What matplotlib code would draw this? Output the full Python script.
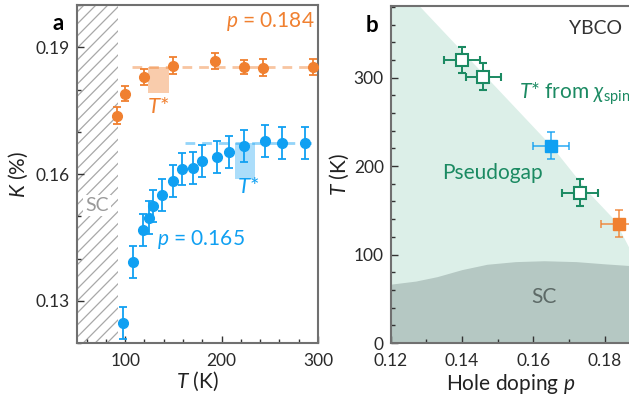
import matplotlib.pyplot as plt
import numpy as np
from matplotlib.patches import Rectangle
from matplotlib.ticker import FixedLocator, MultipleLocator

plt.rcParams['font.family'] = ['Lato', 'DejaVu Sans']
plt.rcParams['mathtext.fontset'] = 'custom'
plt.rcParams['mathtext.rm'] = 'Lato'
plt.rcParams['mathtext.it'] = 'Lato:italic'

ORANGE = '#f08030'
BLUE = '#10a0f2'
GREEN = '#1b8a62'
SPINE = '#707070'

# panel a: Knight shift vs temperature
T_184 = [92, 99.5, 119.5, 150, 193, 223.5, 243, 294.5]
K_184 = [0.1738, 0.1790, 0.1830, 0.1856, 0.1867, 0.1853, 0.1852, 0.1854]
err_184 = [0.0020, 0.0018, 0.0019, 0.0020, 0.0019, 0.0016, 0.0020, 0.0019]

T_165 = [98, 108, 118.5, 124.5, 129, 138.5, 149.5, 159, 170, 179.5, 195, 207.5, 223.5, 245, 262.5, 286]
K_165 = [0.1248, 0.1391, 0.1468, 0.1497, 0.1525, 0.1550, 0.1583, 0.1612, 0.1615, 0.1631,
         0.1640, 0.1653, 0.1667, 0.1678, 0.1674, 0.1674]
err_165 = [0.0038] * len(T_165)

# high-temperature plateaus and T* windows
plateau_184, plateau_184_start = 0.1854, 107
plateau_165, plateau_165_start = 0.1674, 162
tstar_184 = (124, 145.5, 0.1792)  # T from, T to, lower K
tstar_165 = (214, 234.5, 0.1589)
Tc = 93
K_ticks = [0.13, 0.16, 0.19]

# panel b: phase diagram
p_chi = [0.140, 0.146, 0.173]
T_chi = [320, 301, 170]
p_nmr = [0.165, 0.184]
T_nmr = [223, 135]
p_err, T_err = 0.005, 15

pg_p = [0.12, 0.1278, 0.165, 0.1753, 0.1828, 0.1873]
pg_T = [382, 382, 223, 171, 139, 104]
sc_p = [0.12, 0.127, 0.133, 0.14, 0.147, 0.155, 0.163, 0.172, 0.18, 0.1873]
sc_T = [66.5, 70, 75, 83, 89, 92, 93, 92, 89.5, 87.5]


def style_axes(ax):
    for s in ax.spines.values():
        s.set_color(SPINE)
        s.set_linewidth(1.5)
    ax.tick_params(which='both', direction='in', color='#333333', labelsize=12.5,
                   labelcolor='#2a2a2a', pad=5)
    ax.tick_params(axis='x', which='both', pad=7.5)
    ax.tick_params(which='major', length=5, width=1)
    ax.tick_params(which='minor', length=3, width=1)


fig = plt.figure(figsize=(6.29, 4.01), dpi=100)

# ---------------- panel a ----------------
ax = fig.add_axes([77 / 629, 58 / 401, 241 / 629, 338 / 401])
ax.set_xlim(50, 300)
ax.set_ylim(0.12, 0.2)
style_axes(ax)
ax.xaxis.set_major_locator(MultipleLocator(100))
ax.xaxis.set_minor_locator(MultipleLocator(20))
ax.yaxis.set_major_locator(FixedLocator(K_ticks))
ax.yaxis.set_minor_locator(MultipleLocator(0.01))
ax.yaxis.set_major_formatter(lambda v, pos: f'{v:.2f}')

# hatched superconducting region
sc_box = Rectangle((50, 0.12), Tc - 50, 0.08, facecolor='none', edgecolor='none')
ax.add_patch(sc_box)
k = 0.97 / 4210  # slope for 45 degree lines in data units
step = 12 / 4210
for y0 in np.arange(0.12 - 0.03, 0.2 + step, step):
    xs = np.array([50, Tc])
    ln, = ax.plot(xs, y0 + k * (xs - 50), color='#a8a8a8', lw=0.9, zorder=1)
    ln.set_clip_path(sc_box)
ax.text(71, 0.1525, 'SC', color='#9a9a9a', fontsize=14, ha='center', va='center',
        bbox=dict(facecolor='white', edgecolor='none', pad=1.5), zorder=2)

ax.plot([plateau_184_start, 300], [plateau_184] * 2, ls=(0, (3.5, 2.5)), lw=2,
        color=ORANGE, alpha=0.45, zorder=2)
ax.plot([plateau_165_start, 300], [plateau_165] * 2, ls=(0, (3.5, 2.5)), lw=2,
        color=BLUE, alpha=0.45, zorder=2)
ax.add_patch(Rectangle((tstar_184[0], tstar_184[2]), tstar_184[1] - tstar_184[0],
                       plateau_184 - tstar_184[2], color=ORANGE, alpha=0.4, lw=0, zorder=2))
ax.add_patch(Rectangle((tstar_165[0], tstar_165[2]), tstar_165[1] - tstar_165[0],
                       plateau_165 - tstar_165[2], color=BLUE, alpha=0.35, lw=0, zorder=2))

ax.errorbar(T_184, K_184, yerr=err_184, fmt='o', ms=7, color=ORANGE, ecolor=ORANGE,
            elinewidth=1.3, capsize=3, capthick=1.3, zorder=3)
ax.errorbar(T_165, K_165, yerr=err_165, fmt='o', ms=7, color=BLUE, ecolor=BLUE,
            elinewidth=1.3, capsize=3, capthick=1.3, zorder=3)

ax.text(0.985, 0.95, r'$p$ = 0.184', transform=ax.transAxes, color=ORANGE,
        fontsize=15, ha='right', va='center')
ax.text(0.33, 0.305, r'$p$ = 0.165', transform=ax.transAxes, color=BLUE,
        fontsize=15, ha='left', va='center')
ax.text(134.5, 0.1758, r'$T$*', color=ORANGE, fontsize=16, ha='center', va='center')
ax.text(228, 0.1570, r'$T$*', color=BLUE, fontsize=16, ha='center', va='center')

ax.set_xlabel(r'$T$ (K)', fontsize=15, color='#222222', labelpad=0)
ax.set_ylabel(r'$K$ (%)', fontsize=15, color='#222222', labelpad=4)
fig.text(58 / 629, 1 - 24 / 401, 'a', fontsize=16, fontweight='bold', ha='center', va='center')

# ---------------- panel b ----------------
bx = fig.add_axes([390.7 / 629, 58 / 401, 240 / 629, 337 / 401])
bx.set_xlim(0.12, 0.1873)
bx.set_ylim(0, 381)
style_axes(bx)
bx.spines['right'].set_visible(False)
bx.xaxis.set_major_locator(MultipleLocator(0.02))
bx.xaxis.set_minor_locator(MultipleLocator(0.01))
bx.yaxis.set_major_locator(MultipleLocator(100))
bx.yaxis.set_minor_locator(MultipleLocator(20))
bx.xaxis.set_major_formatter(lambda v, pos: f'{v:.2f}')

bx.fill_between(pg_p, 0, pg_T, color='#dcefe8', lw=0, zorder=0)
bx.fill_between(sc_p, 0, sc_T, color='#b5c8c3', lw=0, zorder=0)

bx.errorbar(p_chi, T_chi, xerr=p_err, yerr=T_err, fmt='s', ms=8, mfc='white',
            mec=GREEN, mew=1.5, ecolor=GREEN, elinewidth=1.4, capsize=3, capthick=1.4, zorder=3)
for p, T, c in zip(p_nmr, T_nmr, [BLUE, ORANGE]):
    bx.errorbar(p, T, xerr=p_err, yerr=T_err, fmt='none', ecolor=c, alpha=0.7,
                elinewidth=1.4, capsize=3, capthick=1.4, zorder=3)
    bx.plot(p, T, 's', ms=8, color=c, zorder=4)

bx.text(0.185, 356, 'YBCO', fontsize=14, color='#333333', ha='right', va='center')
bx.text(0.1872, 282, r'$T$* from $\chi_{\rm spin}$', fontsize=15, color=GREEN,
        ha='right', va='center')
bx.text(0.1345, 192, 'Pseudogap', fontsize=15, color=GREEN, ha='left', va='center')
bx.text(0.163, 52, 'SC', fontsize=15, color='#5d6a67', ha='center', va='center')

bx.set_xlabel(r'Hole doping $p$', fontsize=15, color='#222222', labelpad=2)
bx.set_ylabel(r'$T$ (K)', fontsize=15, color='#222222', labelpad=2)
fig.text(371.7 / 629, 1 - 25 / 401, 'b', fontsize=16, fontweight='bold', ha='center', va='center')

fig.savefig('out.png', dpi=100)
